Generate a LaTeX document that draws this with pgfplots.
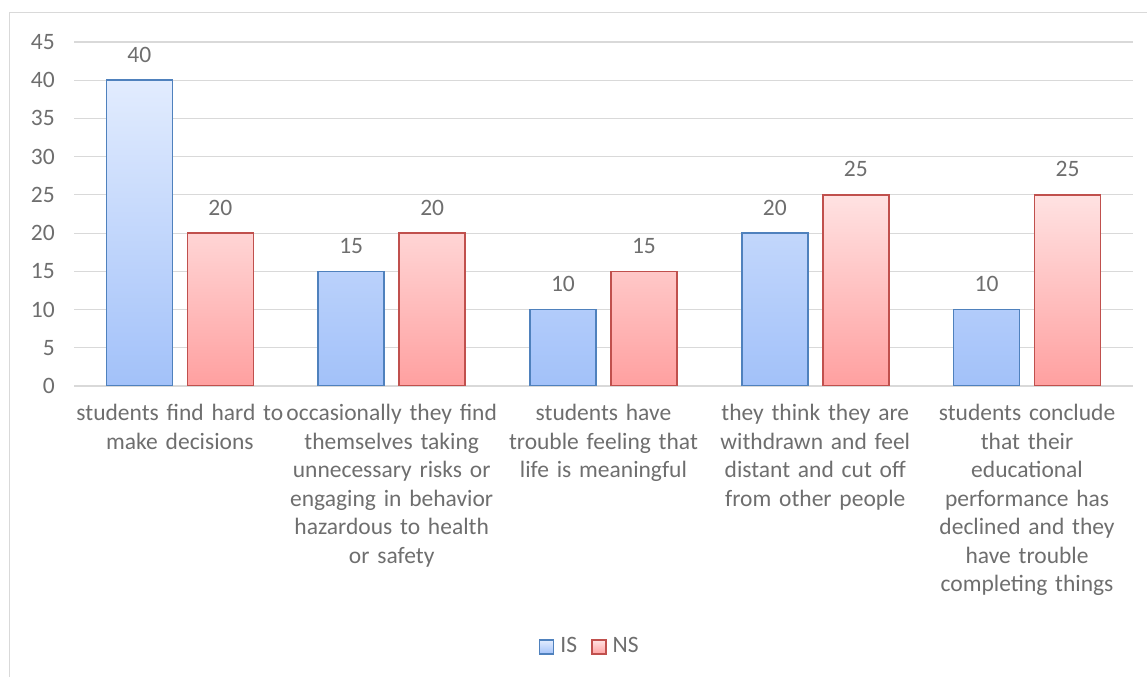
\documentclass[border=0pt]{standalone}
\usepackage{fontspec}
\setmainfont{Carlito}
\usepackage{pgfplots}
\pgfplotsset{compat=1.18}

\definecolor{txt}{HTML}{6E6E6E}
\definecolor{gridc}{HTML}{D9D9D9}
\definecolor{isedge}{HTML}{4F81BD}
\definecolor{istop}{HTML}{E2ECFE}
\definecolor{isbot}{HTML}{A2C1F9}
\definecolor{nsedge}{HTML}{C0504D}
\definecolor{nstop}{HTML}{FFE2E2}
\definecolor{nsbot}{HTML}{FFA0A0}

\begin{document}
\fontsize{23.5bp}{28.5bp}\selectfont
\begin{tikzpicture}
\useasboundingbox (0bp,0bp) rectangle (1147bp,677bp);
% outer chart frame (only left and top edge are inside the picture)
\draw[gridc, line width=1bp] (9bp,0bp) -- (9bp,664bp) -- (1147bp,664bp);
\begin{axis}[
    at={(74bp,291bp)}, anchor=south west,
    width=1059bp, height=344bp, scale only axis,
    ymin=0, ymax=45, ytick={0,5,...,45},
    xmin=-0.5, xmax=4.5, xtick={0,1,2,3,4},
    xticklabels={
      {students find hard to\\make decisions},
      {occasionally they find\\themselves taking\\unnecessary risks or\\engaging in behavior\\hazardous to health\\or safety},
      {students have\\trouble feeling that\\life is meaningful},
      {they think they are\\withdrawn and feel\\distant and cut off\\from other people},
      {students conclude\\that their\\educational\\performance has\\declined and they\\have trouble\\completing things}},
    ybar=15bp, bar width=66bp,
    axis line style={draw=none},
    major tick length=0pt,
    ymajorgrids, grid style={gridc, line width=1.2bp},
    tick label style={text=txt},
    x tick label style={text width=215bp, align=center, anchor=north, inner sep=0pt, yshift=-18bp},
    y tick label style={anchor=east, inner sep=0pt, xshift=-19bp},
    /pgf/number format/assume math mode=true,
    nodes near coords,
    nodes near coords style={text=txt, anchor=south, inner sep=0pt, yshift=17bp},
    legend style={at={(0.487,-0.759)}, anchor=center, draw=none, fill=none,
      legend columns=2, text=txt,
      /tikz/every odd column/.style={column sep=4bp},
      /tikz/every even column/.style={column sep=12bp}},
    legend image code/.code={\draw[#1, line width=1.5bp] (0bp,-7bp) rectangle (14bp,7bp);},
]
\addplot[draw=isedge, line width=1.6bp, top color=istop, bottom color=isbot]
  coordinates {(0,40) (1,15) (2,10) (3,20) (4,10)};
\addplot[draw=nsedge, line width=1.6bp, top color=nstop, bottom color=nsbot]
  coordinates {(0,20) (1,20) (2,15) (3,25) (4,25)};
\legend{IS, NS}
\end{axis}
\end{tikzpicture}
\end{document}
